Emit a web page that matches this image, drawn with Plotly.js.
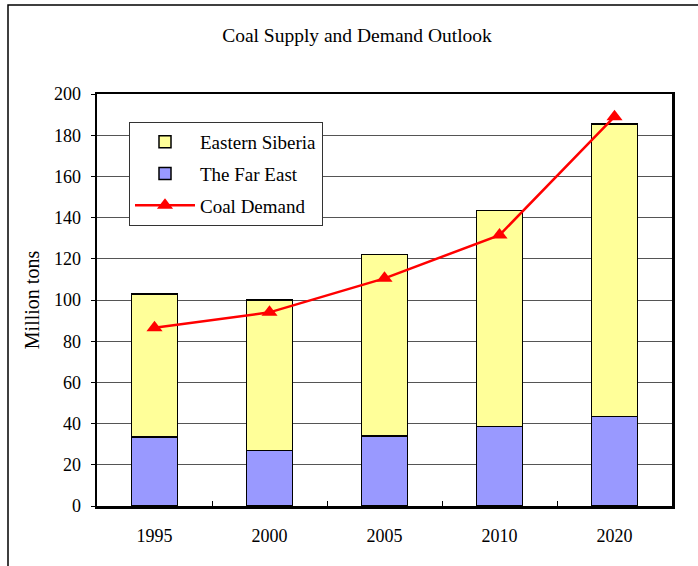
<!DOCTYPE html>
<html>
<head>
<meta charset="utf-8">
<script src="https://cdn.plot.ly/plotly-3.0.1.min.js"></script>
<style>html,body{margin:0;padding:0;background:#fff;}#chart{width:698px;height:566px;}</style>
</head>
<body>
<div id="chart"></div>
<script>
const years = ["1995", "2000", "2005", "2010", "2020"];
const farEast = [33.5, 27, 34, 38.5, 43.5];
const easternSiberia = [69.5, 73, 88, 105, 142];
const coalDemand = [86.5, 94, 110.5, 131.5, 189];

const font = "Liberation Serif, Times New Roman, serif";

const traces = [
  {
    type: "bar", name: "The Far East", x: years, y: farEast,
    marker: {color: "#9999FF", line: {color: "#000", width: 1.5}},
    legendgroup: "b", legendrank: 2
  },
  {
    type: "bar", name: "Eastern Siberia", x: years, y: easternSiberia,
    marker: {color: "#FFFF99", line: {color: "#000", width: 1.5}},
    legendgroup: "a", legendrank: 1
  },
  {
    type: "scatter", mode: "lines+markers", name: "Coal Demand", x: years, y: coalDemand,
    line: {color: "#FF0000", width: 2.5},
    marker: {symbol: "triangle-up", size: 14, color: "#FF0000"},
    legendgroup: "c", legendrank: 3
  }
];

const L = 97, R = 26, T = 94, B = 60, W = 698, H = 566;
const pw = W - L - R, ph = H - T - B;
const px = v => (v - L) / pw;
const py = v => (H - B - v) / ph;

const layout = {
  width: W, height: H,
  margin: {l: L, r: R, t: T, b: B},
  paper_bgcolor: "#fff", plot_bgcolor: "#fff",
  font: {family: font, size: 18, color: "#000"},
  barmode: "stack",
  bargap: 0.6,
  title: {text: "Coal Supply and Demand Outlook", x: 357 / W, xref: "container", xanchor: "center", y: 1 - 35 / H, yref: "container", yanchor: "middle", font: {family: font, size: 19.5}},
  xaxis: {
    type: "category", showgrid: false, showline: true, linecolor: "#000", linewidth: 2.5, mirror: true,
    ticks: "inside", tickson: "boundaries", ticklen: 5, tickcolor: "#000", tickwidth: 1,
    ticklabelstandoff: 12,
    tickfont: {family: font, size: 18}, fixedrange: true
  },
  yaxis: {
    range: [0, 200], dtick: 20, showgrid: true, gridcolor: "#555", gridwidth: 1,
    showline: true, linecolor: "#000", linewidth: 2.5, mirror: true,
    ticks: "outside", ticklen: 4, tickcolor: "#000", zeroline: false,
    ticklabelstandoff: 6,
    tickfont: {family: font, size: 18},
    title: {text: "Million tons", font: {family: font, size: 20}, standoff: 9}
  },
  legend: {
    x: px(129), y: py(122), xanchor: "left", yanchor: "top",
    bgcolor: "#fff", bordercolor: "#333", borderwidth: 1,
    traceorder: "grouped", tracegroupgap: 4, itemwidth: 60,
    font: {family: font, size: 19}
  },
  shapes: [
    {type: "path", xref: "paper", yref: "paper", path: `M ${px(8)} ${py(566)} L ${px(8)} ${py(5)} L ${px(700)} ${py(5)}`, line: {color: "#000", width: 1.5}}
  ],
  showlegend: true
};

Plotly.newPlot("chart", traces, layout, {displayModeBar: false, staticPlot: true});
</script>
</body>
</html>
